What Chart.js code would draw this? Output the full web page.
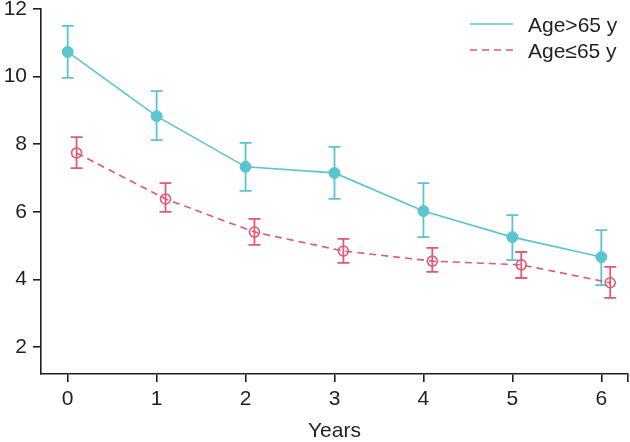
<!DOCTYPE html>
<html>
<head>
<meta charset="utf-8">
<script src="https://cdn.jsdelivr.net/npm/chart.js@4/dist/chart.umd.min.js"></script>
<style>
  html, body { margin: 0; padding: 0; background: #fff; }
  canvas { display: block; }
</style>
</head>
<body>
<canvas id="chart" width="630" height="442"></canvas>
<script>
const years = [0, 1, 2, 3, 4, 5, 6];
const xTicks = [0, 1, 2, 3, 4, 5, 6];
const yTicks = [2, 4, 6, 8, 10, 12];

const olderLabel = "Age>65 y";
const olderMean = [10.73, 8.83, 7.33, 7.15, 6.02, 5.25, 4.66];
const olderLow  = [9.96, 8.12, 6.62, 6.38, 5.25, 4.57, 3.83];
const olderHigh = [11.5, 9.57, 8.04, 7.92, 6.85, 5.9, 5.46];

const youngerLabel = "Age\u226465 y";
const youngerMean = [7.74, 6.38, 5.4, 4.84, 4.54, 4.43, 3.9];
const youngerLow  = [7.29, 6.0, 5.02, 4.49, 4.22, 4.04, 3.45];
const youngerHigh = [8.21, 6.85, 5.79, 5.2, 4.93, 4.81, 4.37];

// the second group is dodged a little to the right
const dodge = 0.1;
const X_MIN = -0.3, X_MAX = 6.3;

const CYAN = "#5cc4cf";
const RED = "#e05a72";
const INK = "#231f20";
const FONT = "'Liberation Sans', Arial, sans-serif";
const FS = 21;

function points(xs, ys, lo, hi, shift) {
  return xs.map((x, i) => ({ x: x + shift, y: ys[i], lo: lo[i], hi: hi[i] }));
}

/* ---- error bars, drawn under the markers ---- */
const errorBars = {
  id: "errorBars",
  beforeDatasetsDraw(chart) {
    const { ctx, scales: { x, y } } = chart;
    ctx.save();
    chart.data.datasets.forEach(ds => {
      ctx.strokeStyle = ds.borderColor;
      ctx.lineWidth = 1.8;
      ctx.setLineDash([]);
      ds.data.forEach(p => {
        const px = x.getPixelForValue(p.x);
        const top = y.getPixelForValue(p.hi);
        const bot = y.getPixelForValue(p.lo);
        ctx.beginPath();
        ctx.moveTo(px, top); ctx.lineTo(px, bot);
        ctx.moveTo(px - 6, top); ctx.lineTo(px + 6, top);
        ctx.moveTo(px - 6, bot); ctx.lineTo(px + 6, bot);
        ctx.stroke();
      });
    });
    ctx.restore();
  }
};

/* ---- legend: short line sample + label, top right ---- */
const lineLegend = {
  id: "lineLegend",
  afterDraw(chart) {
    const ctx = chart.ctx;
    ctx.save();
    ctx.font = FS + "px " + FONT;
    ctx.textBaseline = "alphabetic";
    ctx.fillStyle = INK;
    chart.data.datasets.forEach((ds, i) => {
      const yy = 24 + i * 26;
      ctx.strokeStyle = ds.borderColor;
      ctx.lineWidth = 1.6;
      ctx.setLineDash(ds.borderDash || []);
      ctx.beginPath();
      ctx.moveTo(470, yy);
      ctx.lineTo(513, yy);
      ctx.stroke();
      ctx.setLineDash([]);
      ctx.fillText(ds.label, 528, yy + 8);
    });
    ctx.restore();
  }
};

new Chart(document.getElementById("chart"), {
  type: "scatter",
  data: {
    datasets: [
      {
        label: olderLabel,
        data: points(years, olderMean, olderLow, olderHigh, 0),
        showLine: true,
        borderColor: CYAN,
        backgroundColor: CYAN,
        borderWidth: 1.6,
        pointRadius: 5.5,
        pointBorderWidth: 1,
        pointBackgroundColor: CYAN
      },
      {
        label: youngerLabel,
        data: points(years, youngerMean, youngerLow, youngerHigh, dodge),
        showLine: true,
        borderColor: RED,
        backgroundColor: "#fff",
        borderWidth: 1.6,
        borderDash: [7, 5],
        pointRadius: 5,
        pointBorderWidth: 1.6,
        pointBackgroundColor: "rgba(255,255,255,0)"
      }
    ]
  },
  options: {
    responsive: false,
    animation: false,
    layout: { autoPadding: false, padding: { top: 9, right: 2, left: 0, bottom: 0 } },
    plugins: {
      legend: { display: false },
      tooltip: { enabled: false }
    },
    scales: {
      x: {
        type: "linear",
        min: X_MIN,
        max: X_MAX,
        // a blank tick closes the right end of the axis
        afterBuildTicks: s => { s.ticks = xTicks.concat([X_MAX]).map(v => ({ value: v })); },
        afterFit: s => { s.height = 68; s.paddingLeft = 0; s.paddingRight = 0; },
        border: { display: true, color: INK, width: 1.6 },
        grid: { drawOnChartArea: false, drawTicks: true, tickLength: 8, color: INK, lineWidth: 1.6 },
        ticks: {
          color: INK,
          font: { family: FONT, size: FS },
          padding: 5,
          callback: v => (xTicks.includes(v) ? String(v) : "")
        },
        title: {
          display: true,
          text: "Years",
          color: INK,
          font: { family: FONT, size: FS },
          padding: { top: 0, bottom: -2 }
        }
      },
      y: {
        min: 1.2,
        max: 12,
        afterBuildTicks: s => { s.ticks = yTicks.map(v => ({ value: v })); },
        afterFit: s => { s.width = 41; s.paddingTop = 0; s.paddingBottom = 0; },
        border: { display: true, color: INK, width: 1.6 },
        grid: { drawOnChartArea: false, drawTicks: true, tickLength: 8, color: INK, lineWidth: 1.6 },
        ticks: { color: INK, font: { family: FONT, size: FS }, padding: 6 }
      }
    }
  },
  plugins: [errorBars, lineLegend]
});
</script>
</body>
</html>
